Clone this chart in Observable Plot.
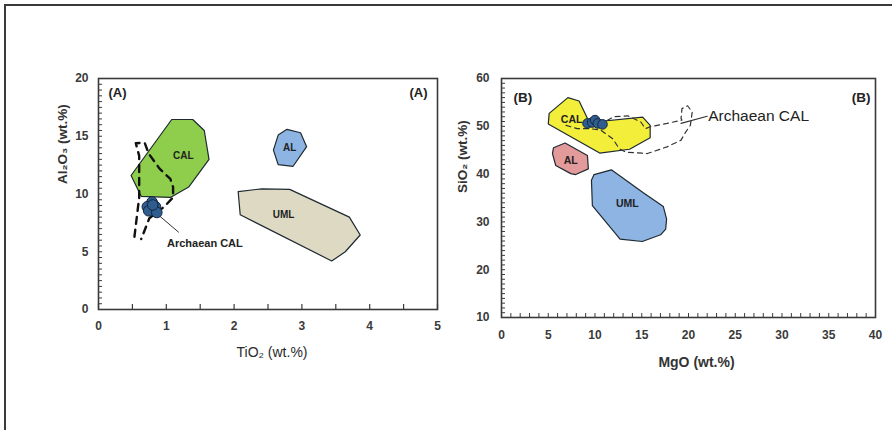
<!DOCTYPE html>
<html><head><meta charset="utf-8">
<script src="https://cdn.jsdelivr.net/npm/d3@7"></script>
<script src="https://cdn.jsdelivr.net/npm/@observablehq/plot@0.6"></script>
<style>
body{margin:0;background:#fff;}
#wrap{position:relative;width:892px;height:430px;overflow:hidden;background:#fff;}
#border{position:absolute;left:4px;top:4px;width:900px;height:440px;border-left:2px solid #3a3a3a;border-top:2px solid #3a3a3a;}
.panel{position:absolute;top:0;}
</style></head><body>
<div id="wrap"><div id="border"></div><div id="pa" class="panel" style="left:0"></div><div id="pb" class="panel" style="left:446px"></div></div>
<script>
// ---------- Panel A: TiO2 vs Al2O3 ----------
const ticksAx = [0, 1, 2, 3, 4, 5];
const ticksAy = [0, 5, 10, 15, 20];
const minorAx = d3.range(0, 5.01, 0.5);
const minorAy = d3.range(0, 20.01, 0.5);
const calA = [[0.48,11.6],[1.08,16.45],[1.39,16.45],[1.56,15.5],[1.63,13.0],[1.33,10.6],[1.06,9.7],[0.63,9.8]];
const alA = [[2.58,13.8],[2.65,15.1],[2.78,15.6],[2.98,15.3],[3.07,14.1],[2.87,12.4],[2.65,12.55]];
const umlA = [[2.06,10.2],[2.41,10.45],[2.82,10.4],[3.70,8.0],[3.86,6.45],[3.64,5.0],[3.44,4.2],[2.09,8.2]];
const archA = [[0.53,6.3],[0.6,9.7],[0.6,13.3],[0.55,14.4],[0.68,14.45],[0.74,13.5],[0.9,12.2],[1.06,11.3],[1.1,10.6],[1.1,9.7],[0.97,8.9],[0.75,7.9],[0.63,6.1]];
const dotsA = [[0.79,9.3],[0.72,8.9],[0.84,8.9],[0.74,8.55],[0.86,8.4],[0.8,9.05]];
const pointerA = [[0.88,8.2],[1.18,6.7]];
const labelsA = [{x:1.25,y:13.3,t:"CAL"},{x:2.82,y:14.0,t:"AL"},{x:2.73,y:8.2,t:"UML"}];
const noteA = [{x:1.01,y:5.75,t:"Archaean CAL"}];

// ---------- Panel B: MgO vs SiO2 ----------
const ticksBx = [0, 5, 10, 15, 20, 25, 30, 35, 40];
const ticksBy = [10, 20, 30, 40, 50, 60];
const minorBx = d3.range(0, 40.01, 1);
const minorBy = d3.range(10, 60.01, 1);
const calB = [[5.0,50.5],[5.1,52.7],[7.1,56.0],[8.3,55.3],[9.4,50.8],[15.1,51.9],[15.9,50.2],[15.9,47.6],[13.7,45.2],[10.5,44.4]];
const alB = [[5.56,45.5],[6.8,46.5],[9.19,43.9],[9.29,41.1],[7.94,39.9],[7.41,40.1],[5.8,41.8],[5.45,44.3]];
const umlB = [[9.9,39.9],[11.75,40.9],[15.24,36.0],[17.31,33.2],[17.66,30.6],[17.56,28.5],[17.02,27.3],[15.06,25.9],[12.68,26.4],[9.72,33.4],[9.62,38.7]];
const archB = [[6.9,50.2],[8.1,49.5],[9.5,49.5],[10.6,49.2],[11.9,47.4],[12.6,45.3],[13.3,44.6],[15.6,44.3],[17.7,45.7],[19.2,47.1],[19.7,48.8],[20.2,50.2],[20.4,53.0],[19.9,54.3],[19.3,53.7],[19.2,51.6],[19.3,51.3],[17.7,50.6],[15.9,49.9],[15.4,49.5],[14.9,50.9],[13.5,52.2],[12.0,52.0],[11.0,50.9]];
const dotsB = [[9.2,50.6],[9.7,50.8],[10.0,51.3],[10.3,50.6],[10.8,50.4]];
const pointerB = [[19.2,50.6],[22.0,52.1]];
const labelsB = [{x:7.5,y:51.3,t:"CAL"},{x:7.4,y:42.9,t:"AL"},{x:13.46,y:33.8,t:"UML"}];
const noteB = [{x:22.0,y:52.1,t:"Archaean CAL"}];

const FONT = "'Liberation Sans', Arial, Helvetica, sans-serif";
const X = d => d[0], Y = d => d[1];
const poly = (data, fill) => Plot.line(data, {x: X, y: Y, curve: "linear-closed", fill, stroke: "#1e2a30", strokeWidth: 1.2});

const plotA = Plot.plot({
  width: 446, height: 430,
  marginLeft: 98, marginRight: 9, marginTop: 78, marginBottom: 121,
  x: {domain: [0, 5], label: null},
  y: {domain: [0, 20], label: null},
  style: {fontFamily: FONT, background: "transparent", overflow: "visible"},
  marks: [
    poly(calA, "#8fce4c"),
    poly(alA, "#8db4e2"),
    poly(umlA, "#ddd9c3"),
    Plot.text(labelsA, {x: "x", y: "y", text: "t", fontSize: 10, fontWeight: "bold", fill: "#222"}),
    Plot.line(archA, {x: X, y: Y, stroke: "#111", strokeWidth: 2.4, strokeDasharray: "7,6"}),
    Plot.line(pointerA, {x: X, y: Y, stroke: "#333", strokeWidth: 1}),
    Plot.dot(dotsA, {x: X, y: Y, r: 5.3, fill: "#2f5d8f", stroke: "#15263d", strokeWidth: 1}),
    Plot.text(noteA, {x: "x", y: "y", text: "t", textAnchor: "start", fontSize: 11, fontWeight: "bold", fill: "#222"}),
    Plot.frame({stroke: "#3a3a3a", strokeWidth: 1.6}),
    Plot.axisX(minorAx, {tickSize: -5, tickFormat: () => "", stroke: "#3a3a3a", strokeWidth: 1.2}),
    Plot.axisY(minorAy, {tickSize: -4, tickFormat: () => "", stroke: "#3a3a3a", strokeWidth: 1}),
    Plot.axisX(ticksAx, {tickSize: 0, tickPadding: 12, fontSize: 12, fontWeight: "bold", fill: "#3a3a3a"}),
    Plot.axisY(ticksAy, {tickSize: 0, tickPadding: 10, fontSize: 12, fontWeight: "bold", fill: "#3a3a3a"}),
    Plot.text(["(A)"], {frameAnchor: "top-left", dx: 10, dy: 14, textAnchor: "start", lineAnchor: "middle", fontSize: 13, fontWeight: "bold", fill: "#222"}),
    Plot.text(["(A)"], {frameAnchor: "top-right", dx: -10, dy: 14, textAnchor: "end", lineAnchor: "middle", fontSize: 13, fontWeight: "bold", fill: "#222"}),
    Plot.text(["TiO₂ (wt.%)"], {frameAnchor: "bottom", dx: 4, dy: 43, lineAnchor: "middle", fontSize: 14, fill: "#2a2a2a"}),
    Plot.text(["Al₂O₃ (wt.%)"], {frameAnchor: "left", dx: -36, dy: -10, rotate: -90, lineAnchor: "middle", fontSize: 13.5, fontWeight: "bold", fill: "#333"})
  ]
});
document.getElementById("pa").append(plotA);

const plotB = Plot.plot({
  width: 446, height: 430,
  marginLeft: 55, marginRight: 17, marginTop: 78, marginBottom: 113,
  x: {domain: [0, 40], label: null},
  y: {domain: [10, 60], label: null},
  style: {fontFamily: FONT, background: "transparent", overflow: "visible"},
  marks: [
    poly(calB, "#f2ee3a"),
    poly(alB, "#e39a9a"),
    poly(umlB, "#8db4e2"),
    Plot.text(labelsB, {x: "x", y: "y", text: "t", fontSize: 10.5, fontWeight: "bold", fill: "#222"}),
    Plot.line(archB, {x: X, y: Y, stroke: "#333", strokeWidth: 1.2, strokeDasharray: "5,4"}),
    Plot.line(pointerB, {x: X, y: Y, stroke: "#333", strokeWidth: 1.2}),
    Plot.dot(dotsB, {x: X, y: Y, r: 4.8, fill: "#2f5d8f", stroke: "#15263d", strokeWidth: 1}),
    Plot.text(noteB, {x: "x", y: "y", text: "t", textAnchor: "start", dx: 1, fontSize: 15.5, fill: "#222"}),
    Plot.frame({stroke: "#3a3a3a", strokeWidth: 1.6}),
    Plot.axisX(minorBx, {tickSize: -4, tickFormat: () => "", stroke: "#3a3a3a", strokeWidth: 1}),
    Plot.axisY(minorBy, {tickSize: -4, tickFormat: () => "", stroke: "#3a3a3a", strokeWidth: 1}),
    Plot.axisX(ticksBx, {tickSize: 0, tickPadding: 13, fontSize: 12, fontWeight: "bold", fill: "#3a3a3a"}),
    Plot.axisY(ticksBy, {tickSize: 0, tickPadding: 12, fontSize: 12, fontWeight: "bold", fill: "#3a3a3a"}),
    Plot.text(["(B)"], {frameAnchor: "top-left", dx: 12, dy: 19, textAnchor: "start", lineAnchor: "middle", fontSize: 13.5, fontWeight: "bold", fill: "#222"}),
    Plot.text(["(B)"], {frameAnchor: "top-right", dx: -5, dy: 19, textAnchor: "end", lineAnchor: "middle", fontSize: 13.5, fontWeight: "bold", fill: "#222"}),
    Plot.text(["MgO (wt.%)"], {frameAnchor: "bottom", dx: 8, dy: 45, lineAnchor: "middle", fontSize: 14, fontWeight: "bold", fill: "#333"}),
    Plot.text(["SiO₂ (wt.%)"], {frameAnchor: "left", dx: -39, dy: -5, rotate: -90, lineAnchor: "middle", fontSize: 13.5, fontWeight: "bold", fill: "#333"})
  ]
});
document.getElementById("pb").append(plotB);
</script>
</body></html>
